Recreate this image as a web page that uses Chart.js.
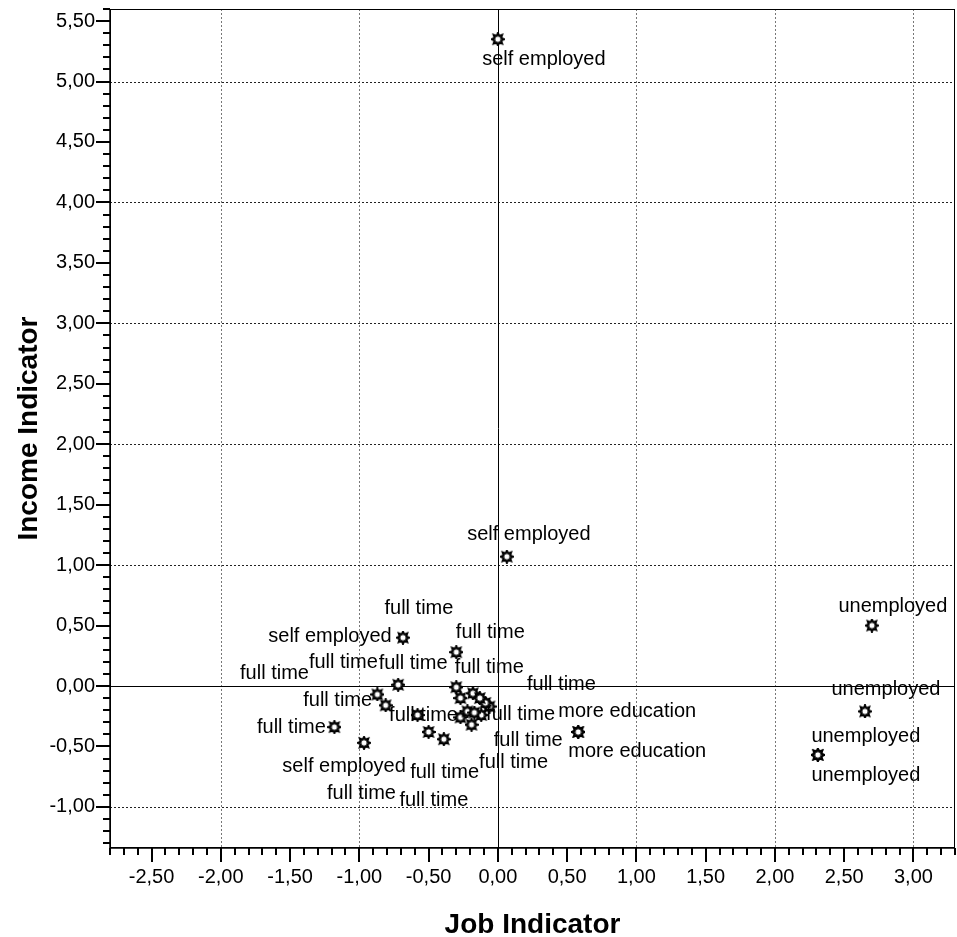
<!DOCTYPE html>
<html>
<head>
<meta charset="utf-8">
<script src="https://cdn.jsdelivr.net/npm/chart.js@4.4.0/dist/chart.umd.min.js"></script>
<style>
  html, body { margin: 0; padding: 0; background: #fff; }
</style>
</head>
<body>
<canvas id="chart" width="957" height="937"></canvas>
<script>
// values
const status = [
  'self employed', 'self employed', 'self employed', 'self employed',
  'unemployed', 'unemployed', 'unemployed', 'unemployed',
  'more education', 'more education',
  'full time', 'full time', 'full time', 'full time', 'full time', 'full time', 'full time',
  'full time', 'full time', 'full time', 'full time', 'full time', 'full time', 'full time',
  'full time', 'full time', 'full time', 'full time', 'full time'
];
const jobIndicator = [
  0.00, 0.065, -0.685, -0.966,
  2.70, 2.65, 2.31, 2.31,
  0.58, 0.58,
  -0.30, -0.30, -0.72, -0.87, -0.81, -0.58, -1.18,
  -0.50, -0.39, -0.27, -0.19, -0.12, -0.06, -0.09,
  -0.18, -0.27, -0.22, -0.17, -0.13
];
const incomeIndicator = [
  5.35, 1.07, 0.40, -0.47,
  0.50, -0.21, -0.57, -0.57,
  -0.38, -0.38,
  0.28, -0.01, 0.01, -0.07, -0.16, -0.24, -0.34,
  -0.38, -0.44, -0.26, -0.32, -0.24, -0.17, -0.14,
  -0.06, -0.10, -0.21, -0.22, -0.10
];
const xTicks = [-2.5, -2.0, -1.5, -1.0, -0.5, 0.0, 0.5, 1.0, 1.5, 2.0, 2.5, 3.0];
const yTicks = [-1.0, -0.5, 0.0, 0.5, 1.0, 1.5, 2.0, 2.5, 3.0, 3.5, 4.0, 4.5, 5.0, 5.5];

// where each case label sits relative to its marker (px), null = label hidden
const labelOffsets = [
  [46, 20], [22, -22], [-73, -1], [-20, 24],
  [21, -19], [21, -22], [48, -18], [48, 21],
  [49, -20], [59, 20],
  [34, -20], [33, -20], [15, -21], [-34, -32], [-48, -5], [6, 0], [-43, 0],
  [16, 41], [-10, 61], [-99, 76], [42, 38], [47, 25], [31, 8], [76, -18],
  [-54, -85], [-186, -25], null, null, null
];

const FONT = '"Liberation Sans", Arial, sans-serif';

function isOn(list, v) {
  return list.some(t => Math.abs(t - v) < 1e-6);
}
function fmt(v) {
  return (Math.abs(v) < 1e-9 ? 0 : v).toFixed(2).replace('.', ',');
}
// minor ticks every 0.1 inside the axis range
function tenths(scale) {
  const out = [];
  for (let k = Math.ceil(scale.min * 10 - 1e-6); k <= Math.floor(scale.max * 10 + 1e-6); k++) {
    out.push({value: k / 10});
  }
  scale.ticks = out;
}

function makeStar(size) {
  const c = document.createElement('canvas');
  c.width = c.height = size;
  const g = c.getContext('2d');
  const cx = size / 2, cy = size / 2, ro = size / 2 - 1, ri = ro * 0.58;
  g.beginPath();
  for (let i = 0; i < 16; i++) {
    const r = i % 2 ? ri : ro;
    const a = -Math.PI / 2 + i * Math.PI / 8;
    const px = cx + r * Math.cos(a), py = cy + r * Math.sin(a);
    if (i === 0) g.moveTo(px, py); else g.lineTo(px, py);
  }
  g.closePath();
  g.fillStyle = '#fff';
  g.fill();
  g.lineWidth = 2;
  g.strokeStyle = '#000';
  g.stroke();
  return c;
}

const frame = {
  id: 'frame',
  beforeDatasetsDraw(chart) {
    const {ctx, chartArea: a, scales: {x, y}} = chart;
    ctx.save();
    ctx.lineWidth = 1;

    // dotted grid at whole units
    ctx.setLineDash([2, 2]);
    x.ticks.forEach(t => {
      if (Math.abs(t.value) < 1e-9 || Math.abs(t.value - Math.round(t.value)) > 1e-6) return;
      const px = Math.round(x.getPixelForValue(t.value)) + 0.5;
      ctx.strokeStyle = '#777';
      ctx.beginPath(); ctx.moveTo(px, a.top); ctx.lineTo(px, a.bottom); ctx.stroke();
    });
    y.ticks.forEach(t => {
      if (Math.abs(t.value) < 1e-9 || Math.abs(t.value - Math.round(t.value)) > 1e-6) return;
      const py = Math.round(y.getPixelForValue(t.value)) + 0.5;
      ctx.strokeStyle = '#222';
      ctx.beginPath(); ctx.moveTo(a.left, py); ctx.lineTo(a.right, py); ctx.stroke();
    });
    ctx.setLineDash([]);

    // reference lines at zero
    ctx.strokeStyle = '#000';
    const x0 = Math.round(x.getPixelForValue(0)) + 0.5;
    const y0 = Math.round(y.getPixelForValue(0)) + 0.5;
    ctx.beginPath();
    ctx.moveTo(x0, a.top); ctx.lineTo(x0, a.bottom);
    ctx.moveTo(a.left, y0); ctx.lineTo(a.right, y0);
    ctx.stroke();

    // frame
    ctx.strokeRect(a.left + 0.5, a.top + 0.5, a.right - a.left - 1, a.bottom - a.top - 1);
    ctx.lineWidth = 1.5;
    ctx.beginPath();
    ctx.moveTo(a.left, a.top); ctx.lineTo(a.left, a.bottom); ctx.lineTo(a.right, a.bottom);
    ctx.stroke();

    // tick marks, long at labelled values, short in between
    ctx.lineWidth = 2;
    x.ticks.forEach(t => {
      const len = isOn(xTicks, t.value) ? 14 : 7;
      const px = Math.round(x.getPixelForValue(t.value));
      ctx.beginPath(); ctx.moveTo(px, a.bottom); ctx.lineTo(px, a.bottom + len); ctx.stroke();
    });
    y.ticks.forEach(t => {
      const len = isOn(yTicks, t.value) ? 14 : 7;
      const py = Math.round(y.getPixelForValue(t.value));
      ctx.beginPath(); ctx.moveTo(a.left - len, py); ctx.lineTo(a.left, py); ctx.stroke();
    });
    ctx.restore();
  },
  afterDatasetsDraw(chart) {
    const {ctx} = chart;
    const meta = chart.getDatasetMeta(0);
    ctx.save();
    ctx.font = '20px ' + FONT;
    ctx.fillStyle = '#000';
    ctx.textAlign = 'center';
    ctx.textBaseline = 'middle';
    meta.data.forEach((el, i) => {
      const off = labelOffsets[i];
      if (!off) return;
      ctx.fillText(status[i], el.x + off[0], el.y + off[1]);
    });
    ctx.restore();
  }
};

const points = jobIndicator.map((v, i) => ({x: v, y: incomeIndicator[i]}));
const star = makeStar(14);

new Chart(document.getElementById('chart'), {
  type: 'scatter',
  data: {
    datasets: [{
      data: points,
      pointStyle: star,
      pointRadius: 7,
      pointHoverRadius: 7
    }]
  },
  options: {
    responsive: false,
    animation: false,
    layout: {autoPadding: false, padding: {top: 9, right: 2, left: 0, bottom: 0}},
    plugins: {
      legend: {display: false},
      tooltip: {enabled: false}
    },
    scales: {
      x: {
        type: 'linear',
        min: -2.8,
        max: 3.3,
        afterBuildTicks: tenths,
        afterFit(s) { s.height = 89; s.paddingLeft = 0; s.paddingRight = 0; },
        border: {display: false},
        grid: {color: 'transparent', tickColor: 'transparent', tickLength: 14},
        ticks: {
          autoSkip: false,
          maxRotation: 0,
          padding: 3,
          color: '#000',
          font: {family: FONT, size: 20},
          callback: v => isOn(xTicks, v) ? fmt(v) : ''
        },
        title: {
          display: true,
          text: 'Job Indicator',
          color: '#000',
          font: {family: FONT, size: 28, weight: 'bold', lineHeight: 0.86},
          padding: {top: 0, bottom: 0}
        }
      },
      y: {
        type: 'linear',
        min: -1.34,
        max: 5.6,
        afterBuildTicks: tenths,
        afterFit(s) { s.width = 110; s.paddingTop = 0; s.paddingBottom = 0; },
        border: {display: false},
        grid: {color: 'transparent', tickColor: 'transparent', tickLength: 14},
        ticks: {
          autoSkip: false,
          padding: 1,
          color: '#000',
          font: {family: FONT, size: 20},
          callback: v => isOn(yTicks, v) ? fmt(v) : ''
        },
        title: {
          display: true,
          text: 'Income Indicator',
          color: '#000',
          font: {family: FONT, size: 28, weight: 'bold', lineHeight: 0.86},
          padding: {top: 17, bottom: 0}
        }
      }
    }
  },
  plugins: [frame]
});
</script>
</body>
</html>
